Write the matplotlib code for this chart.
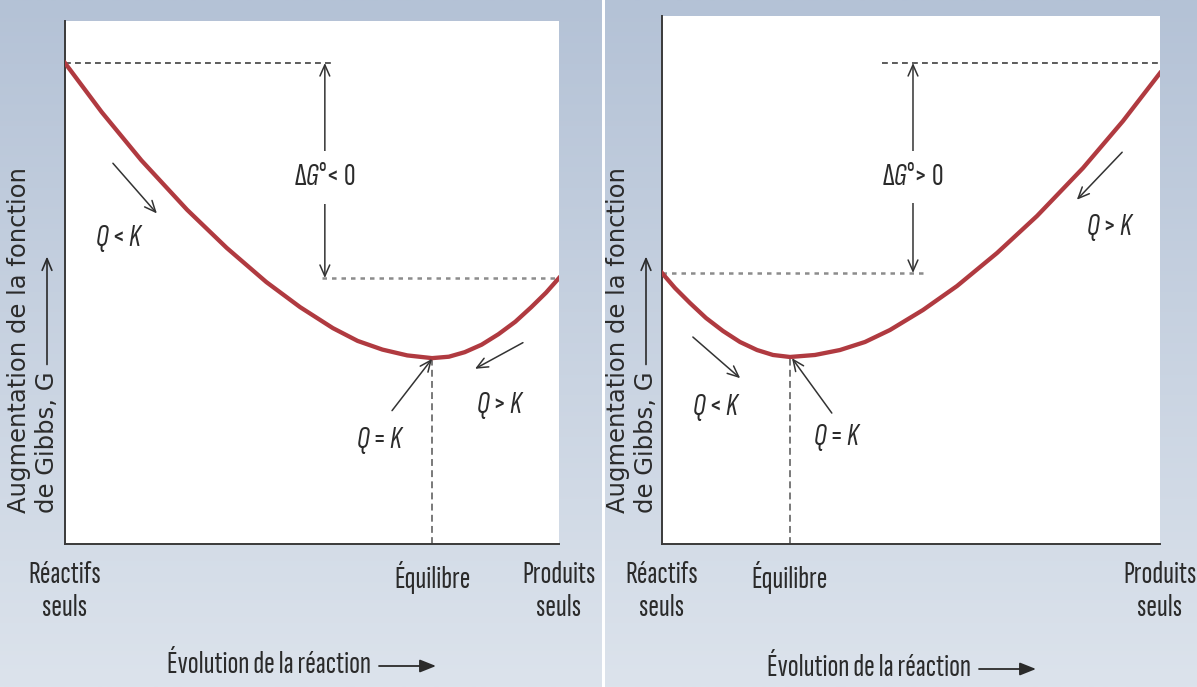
import numpy as np
import matplotlib
matplotlib.use("Agg")
import matplotlib.pyplot as plt

# ---------------- data ----------------
# reaction progress (0 = reactants only, 100 = products only) and Gibbs energy (arbitrary units)
progress_left = [0, 7.43, 15.46, 24.70, 32.73, 40.76, 47.59, 54.22, 59.24, 64.26, 69.28,
                 74.30, 77.71, 80.92, 84.34, 87.75, 91.16, 94.38, 97.39, 100]
gibbs_left = [91.97, 82.58, 73.36, 63.92, 56.62, 50.08, 45.29, 41.28, 38.83, 37.17, 36.06,
              35.54, 35.81, 36.68, 38.11, 40.12, 42.50, 45.28, 48.07, 50.86]
progress_right = [0, 2.61, 5.62, 8.84, 12.25, 15.66, 19.08, 22.29, 25.70, 30.72, 35.74,
                  40.76, 45.78, 52.41, 59.24, 67.27, 75.30, 84.54, 92.57, 100]
gibbs_right = [51.33, 48.48, 45.64, 42.80, 40.34, 38.26, 36.74, 35.80, 35.42, 35.80, 36.74,
               38.26, 40.53, 44.32, 48.86, 55.11, 62.12, 71.21, 80.11, 89.20]

equilibrium_left = 74.3
equilibrium_right = 25.7
g_reactants_left, g_products_left = 91.97, 50.86
g_reactants_right, g_products_right = 51.33, 91.1

tick_labels = ["Réactifs\nseuls", "Équilibre", "Produits\nseuls"]
xlabel_text = "Évolution de la réaction"
ylabel_line1 = "Augmentation de la fonction"
ylabel_line2 = "de Gibbs, G"
dg_left_text = r"Δ$G$°< 0"
dg_right_text = r"Δ$G$°> 0"
q_less = r"$Q$ < $K$"
q_equal = r"$Q$ = $K$"
q_more = r"$Q$ > $K$"

# ---------------- style ----------------
W, H = 1197, 687
COND = "Sofia Sans Extra Condensed"
plt.rcParams["mathtext.fontset"] = "custom"
plt.rcParams["mathtext.rm"] = COND
plt.rcParams["mathtext.it"] = COND + ":italic"
plt.rcParams["mathtext.default"] = "it"

TXT = "#2b2b2b"
CURVE = "#b03a40"
ARROW = "#333333"
DARKDASH = "#3f3f3f"
GREYDASH = "#8c8c8c"
FS = 23

fig = plt.figure(figsize=(W / 100, H / 100), dpi=100)

# background gradient (pixel coordinates)
bg = fig.add_axes([0, 0, 1, 1], zorder=-5)
top = np.array([0xb4, 0xc2, 0xd6]) / 255
bot = np.array([0xdc, 0xe3, 0xec]) / 255
t = np.linspace(0, 1, 256)[:, None, None]
grad = top * (1 - t) + bot * t
bg.imshow(grad, extent=[0, W, H, 0], aspect="auto", interpolation="bilinear")
bg.axvspan(602, 605, color="white", lw=0)
bg.set_xlim(0, W)
bg.set_ylim(H, 0)
bg.axis("off")


def px_axes(x0, x1, y_top, y_bot):
    return fig.add_axes([x0 / W, (H - y_bot) / H, (x1 - x0) / W, (y_bot - y_top) / H])


axL = px_axes(65, 559, 21, 544)
axR = px_axes(662, 1160, 16, 544)


def setup(ax, eq):
    ax.set_facecolor("white")
    ax.set_xlim(0, 100)
    ax.set_ylim(0, 100)
    for s in ("top", "right"):
        ax.spines[s].set_visible(False)
    for s in ("left", "bottom"):
        ax.spines[s].set_color("#3a3a3a")
        ax.spines[s].set_linewidth(1.4)
    ax.set_yticks([])
    ax.set_xticks([0, eq, 100])
    ax.set_xticklabels(tick_labels, family=COND, fontsize=FS, color=TXT, linespacing=1.24)
    ax.tick_params(axis="x", length=0, pad=12)
    for lab in ax.get_xticklabels():
        lab.set_clip_on(False)


setup(axL, equilibrium_left)
setup(axR, equilibrium_right)


def arrow(ax, start, end, ms=16, lw=1.1, style="->"):
    ax.annotate("", xy=end, xytext=start,
                arrowprops=dict(arrowstyle=style + ",head_length=0.5,head_width=0.22",
                                color=ARROW, lw=lw, mutation_scale=ms, shrinkA=0, shrinkB=0),
                annotation_clip=False)


def label(ax, x, y, s, **kw):
    ax.text(x, y, s, family=COND, fontsize=FS, color=TXT, ha="center", va="center", **kw)


# ---------- left panel (ΔG° < 0) ----------
axL.plot(progress_left, gibbs_left, color=CURVE, lw=3.1, solid_joinstyle="round", zorder=3)
axL.plot([0, 54.7], [g_reactants_left, g_reactants_left], color=DARKDASH, lw=1.2, ls=(0, (3.5, 2.5)))
axL.plot([52.0, 100], [g_products_left, g_products_left], color=GREYDASH, lw=1.8, ls=(0, (1.8, 2.0)))
axL.plot([equilibrium_left, equilibrium_left], [0, min(gibbs_left)], color="#555555", lw=1.1,
         ls=(0, (4.5, 2.8)))
arrow(axL, (52.6, 70.1), (52.6, g_reactants_left))
arrow(axL, (52.6, 70.1), (52.6, g_products_left))
label(axL, 52.6, 70.1, dg_left_text, bbox=dict(fc="white", ec="none", pad=9))
arrow(axL, (9.7, 72.8), (18.6, 63.2))
label(axL, 11.1, 58.4, q_less)
arrow(axL, (66.2, 25.5), (74.3, 35.4))
label(axL, 63.8, 19.7, q_equal)
arrow(axL, (92.7, 38.5), (83.0, 33.5))
label(axL, 88.1, 26.4, q_more)

# ---------- right panel (ΔG° > 0) ----------
axR.plot(progress_right, gibbs_right, color=CURVE, lw=3.1, solid_joinstyle="round", zorder=3)
axR.plot([44.2, 100], [g_products_right, g_products_right], color=DARKDASH, lw=1.2, ls=(0, (3.5, 2.5)))
axR.plot([0, 53.2], [g_reactants_right, g_reactants_right], color=GREYDASH, lw=1.8, ls=(0, (1.8, 2.0)))
axR.plot([equilibrium_right, equilibrium_right], [0, min(gibbs_right)], color="#555555", lw=1.1,
         ls=(0, (4.5, 2.8)))
arrow(axR, (50.4, 69.5), (50.4, g_products_right))
arrow(axR, (50.4, 69.5), (50.4, g_reactants_right))
label(axR, 50.4, 69.5, dg_right_text, bbox=dict(fc="white", ec="none", pad=9))
arrow(axR, (6.2, 39.2), (15.7, 31.4))
label(axR, 11.0, 25.9, q_less)
arrow(axR, (34.1, 24.8), (26.1, 35.2))
label(axR, 35.3, 20.1, q_equal)
arrow(axR, (92.4, 74.2), (83.3, 65.2))
label(axR, 90.0, 60.0, q_more)

# ---------- axis titles (pixel coordinates on background axes) ----------
for x_arrow0, x_arrow1, y in ((379, 436, 665), (979, 1036, 668)):
    bg.text(x_arrow0 - 8, y, xlabel_text, family=COND, fontsize=FS, color=TXT, ha="right", va="center")
    bg.annotate("", xy=(x_arrow1, y + 1), xytext=(x_arrow0, y + 1),
                arrowprops=dict(arrowstyle="-|>,head_length=0.7,head_width=0.28", color=TXT,
                                lw=1.3, mutation_scale=14, shrinkA=0, shrinkB=0))

renderer = fig.canvas.get_renderer()
for x1, x2 in ((19, 47), (618, 646)):
    bg.text(x1, 513, ylabel_line1, family="DejaVu Sans", fontsize=17.5, color=TXT,
            rotation=90, ha="center", va="bottom")
    t2 = bg.text(x2, 513, ylabel_line2, family="DejaVu Sans", fontsize=17.5, color=TXT,
                 rotation=90, ha="center", va="bottom")
    ext = t2.get_window_extent(renderer)
    y_top_px = H - ext.y1
    bg.annotate("", xy=(x2, y_top_px - 115), xytext=(x2, y_top_px - 7),
                arrowprops=dict(arrowstyle="->,head_length=0.6,head_width=0.25", color=TXT,
                                lw=1.2, mutation_scale=14, shrinkA=0, shrinkB=0))

fig.savefig("out.png", dpi=100)
